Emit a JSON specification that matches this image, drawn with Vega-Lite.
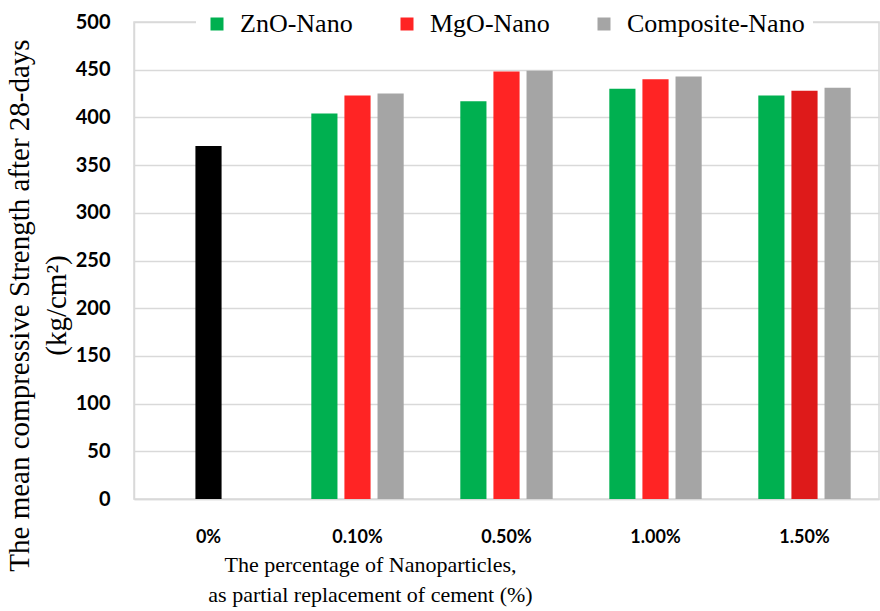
{
  "$schema": "https://vega.github.io/schema/vega-lite/v6.json",
  "width": 745,
  "height": 477,
  "autosize": {"type": "none"},
  "padding": {"left": 134, "top": 22, "right": 1, "bottom": 112},
  "background": "white",
  "config": {
    "view": {"stroke": "#D9D9D9", "strokeWidth": 1.5},
    "axis": {"gridColor": "#D9D9D9", "gridWidth": 1.5, "domainColor": "#D9D9D9", "domainWidth": 1.5, "ticks": false},
    "legend": {"labelFont": "Liberation Serif", "labelFontSize": 26, "labelColor": "#000000"}
  },
  "data": {
    "values": [
      {"pct": "0%", "series": "Control", "slot": 2, "strength": 370},
      {"pct": "0.10%", "series": "ZnO-Nano", "slot": 1, "strength": 404},
      {"pct": "0.10%", "series": "MgO-Nano", "slot": 2, "strength": 423},
      {"pct": "0.10%", "series": "Composite-Nano", "slot": 3, "strength": 425},
      {"pct": "0.50%", "series": "ZnO-Nano", "slot": 1, "strength": 417},
      {"pct": "0.50%", "series": "MgO-Nano", "slot": 2, "strength": 448},
      {"pct": "0.50%", "series": "Composite-Nano", "slot": 3, "strength": 449},
      {"pct": "1.00%", "series": "ZnO-Nano", "slot": 1, "strength": 430},
      {"pct": "1.00%", "series": "MgO-Nano", "slot": 2, "strength": 440},
      {"pct": "1.00%", "series": "Composite-Nano", "slot": 3, "strength": 443},
      {"pct": "1.50%", "series": "ZnO-Nano", "slot": 1, "strength": 423},
      {"pct": "1.50%", "series": "MgO-Nano", "slot": 2, "strength": 428},
      {"pct": "1.50%", "series": "Composite-Nano", "slot": 3, "strength": 431}
    ]
  },
  "mark": {"type": "bar"},
  "encoding": {
    "x": {
      "field": "pct",
      "type": "nominal",
      "sort": ["0%", "0.10%", "0.50%", "1.00%", "1.50%"],
      "scale": {"paddingInner": 0.38, "paddingOuter": 0.19},
      "axis": {
        "labelAngle": 0,
        "labelFont": "Lato",
        "labelFontWeight": "bold",
        "labelFontSize": 18,
        "labelColor": "#000000",
        "labelPadding": 29,
        "title": ["The percentage of Nanoparticles,", "as partial replacement of cement (%)"],
        "titleFont": "Liberation Serif",
        "titleFontWeight": "normal",
        "titleFontSize": 22,
        "titleLineHeight": 30,
        "titleColor": "#000000",
        "titleX": 236,
        "titleY": 55,
        "titleAlign": "center",
        "titleBaseline": "top"
      }
    },
    "xOffset": {
      "field": "slot",
      "type": "ordinal",
      "scale": {"domain": [1, 2, 3], "paddingInner": 0.21, "paddingOuter": 0}
    },
    "y": {
      "field": "strength",
      "type": "quantitative",
      "scale": {"domain": [0, 500]},
      "axis": {
        "values": [0, 50, 100, 150, 200, 250, 300, 350, 400, 450, 500],
        "labelFont": "Lato",
        "labelFontWeight": "bold",
        "labelFontSize": 20,
        "labelColor": "#000000",
        "labelPadding": 24,
        "title": ["The mean compressive Strength after 28-days", "(kg/cm²)"],
        "titleFont": "Liberation Serif",
        "titleFontWeight": "normal",
        "titleFontSize": 29,
        "titleLineHeight": 37,
        "titleColor": "#000000",
        "titleAngle": -90,
        "titleAlign": "center",
        "titleBaseline": "top",
        "titleX": -129,
        "titleY": 283
      }
    },
    "color": {
      "condition": [
        {"test": "datum.series === 'Control'", "value": "#000000"},
        {"test": "datum.series === 'MgO-Nano' && datum.pct === '1.50%'", "value": "#DE1A1A"}
      ],
      "field": "series",
      "type": "nominal",
      "scale": {"domain": ["ZnO-Nano", "MgO-Nano", "Composite-Nano"], "range": ["#00B050", "#FF2424", "#A5A5A5"]},
      "legend": {
        "values": ["ZnO-Nano", "MgO-Nano", "Composite-Nano"],
        "title": null,
        "orient": "none",
        "direction": "horizontal",
        "gridAlign": "none",
        "legendX": 62,
        "legendY": -19,
        "padding": 8,
        "fillColor": "white",
        "symbolType": "square",
        "symbolSize": 169,
        "symbolStrokeWidth": 0,
        "labelFont": "Liberation Serif",
        "labelFontSize": 26,
        "labelColor": "#000000",
        "labelOffset": 10,
        "columnPadding": 41,
        "labelLimit": 400
      }
    }
  }
}
